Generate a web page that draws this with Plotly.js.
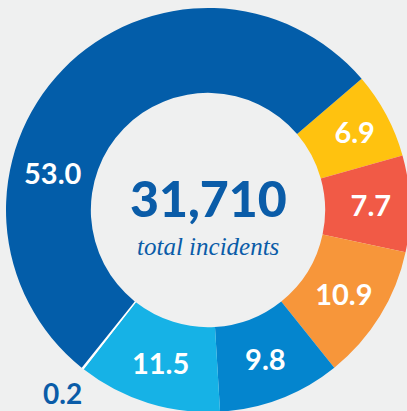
<!DOCTYPE html>
<html>
<head>
<meta charset="utf-8">
<script src="https://cdn.plot.ly/plotly-3.0.1.min.js"></script>
<style>
html, body { margin: 0; padding: 0; overflow: hidden; background: #EFF0F0; width: 407px; height: 411px; }
#chart { width: 410px; height: 412px; }
</style>
</head>
<body>
<div id="chart"></div>
<script>
// Data (percent of total incidents), clockwise from the upper-right boundary
const categories = ["Yellow", "Red", "Orange", "Mid blue", "Light blue", "Small", "Dark blue"];
const values = [6.9, 7.7, 10.9, 9.8, 11.5, 0.2, 53.0];
const labelsText = ["6.9", "7.7", "10.9", "9.8", "11.5", "0.2", "53.0"];
const colors = ["#FFC20F", "#F15A46", "#F7963A", "#0485CE", "#16B2E6", "#FFFFFF", "#035DA9"];
const totalIncidents = "31,710";
const totalLabel = "total incidents";

const insideText = labelsText.map((t, i) => (i >= 5 ? "" : t));

const trace = {
  type: "pie",
  values: values,
  labels: categories,
  text: insideText,
  textinfo: "text",
  textposition: "inside",
  insidetextorientation: "horizontal",
  insidetextfont: { family: "Lato", size: 29, color: "#FFFFFF", weight: 700 },
  marker: { colors: colors, line: { width: 0 } },
  hole: 0.58,
  sort: false,
  direction: "clockwise",
  rotation: 49.5,
  hoverinfo: "none",
  showlegend: false,
  domain: { x: [0, 1], y: [0, 1] }
};

// label placement helpers (angle clockwise from 12 o'clock, radius as paper fraction)
function polar(angleDeg, r) {
  const a = angleDeg * Math.PI / 180;
  return { x: 0.5 + r * Math.sin(a), y: 0.5 + r * Math.cos(a) };
}
const p53 = polar(283.6, 0.396);
const p02 = polar(218.5, 0.578);

const layout = {
  width: 410,
  height: 412,
  margin: { l: 6, r: 0, t: 8, b: 0, pad: 0 },
  paper_bgcolor: "#EFF0F0",
  plot_bgcolor: "#EFF0F0",
  annotations: [
    { text: labelsText[6], x: p53.x, y: p53.y, xref: "paper", yref: "paper", showarrow: false,
      xanchor: "center", yanchor: "middle",
      font: { family: "Lato", size: 29, color: "#FFFFFF", weight: 700 } },
    { text: labelsText[5], x: p02.x, y: p02.y, xref: "paper", yref: "paper", showarrow: false,
      xanchor: "center", yanchor: "middle", borderpad: 0,
      font: { family: "Lato", size: 28, color: "#0A5CA8", weight: 700 } },
    { text: totalIncidents, x: 0.5, y: 0.53, xref: "paper", yref: "paper", showarrow: false,
      xanchor: "center", yanchor: "middle",
      font: { family: "Lato", size: 50, color: "#0A5CA8", weight: 900 } },
    { text: "<i>" + totalLabel + "</i>", x: 0.5, y: 0.41, xref: "paper", yref: "paper", showarrow: false,
      xanchor: "center", yanchor: "middle",
      font: { family: "Liberation Serif", size: 25, color: "#0A5CA8" } }
  ]
};

Plotly.newPlot("chart", [trace], layout, { staticPlot: true, displayModeBar: false });
</script>
</body>
</html>
